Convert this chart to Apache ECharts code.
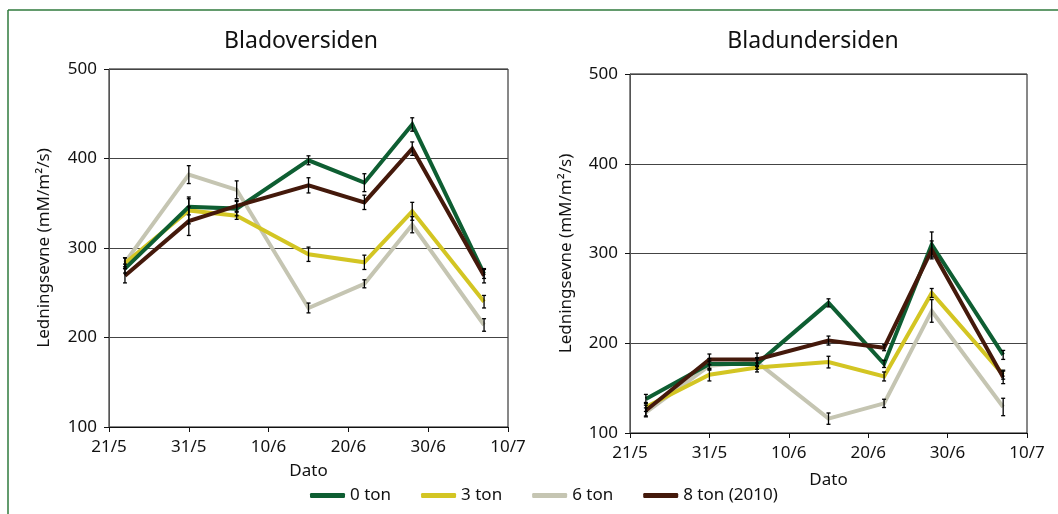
<!DOCTYPE html>
<html>
<head>
<meta charset="utf-8">
<script src="https://cdn.jsdelivr.net/npm/echarts@6/dist/echarts.min.js"></script>
<style>
html,body{margin:0;padding:0;background:#fff;}
#chart{width:1058px;height:514px;}
</style>
</head>
<body>
<div id="chart"></div>
<script>
// ---- data ----
const dates = ['23/5','31/5','6/6','15/6','22/6','28/6','7/7'];
const xTickLabels = ['21/5','31/5','10/6','20/6','30/6','10/7'];
const yTicks = [100, 200, 300, 400, 500];
const seriesNames = ['0 ton', '3 ton', '6 ton', '8 ton (2010)'];
const titles = ['Bladoversiden', 'Bladundersiden'];

// Bladoversiden (left)
const over0 = [277, 346, 344, 398, 373, 438, 271];
const over3 = [283, 342, 336, 293, 284, 341, 240];
const over6 = [284, 382, 365, 233, 260, 326, 214];
const over8 = [269, 330, 347, 370, 351, 411, 269];
const overErr0 = [5, 9, 8, 5, 10, 7.5, 5];
const overErr3 = [6, 15, 4, 8, 8, 10, 7];
const overErr6 = [5, 10, 10, 5.5, 4.5, 9, 7];
const overErr8 = [8, 16, 6, 8.5, 8, 7.5, 8];

// Bladundersiden (right)
const under0 = [138, 177, 177, 245, 177, 310, 187];
const under3 = [129, 165, 173, 179, 163, 256, 165];
const under6 = [123, 175, 179, 116, 133, 236, 129];
const under8 = [125, 182, 182, 203, 195, 304, 162];
const underErr0 = [5, 6, 6, 4.5, 4, 14, 5];
const underErr3 = [5, 7, 5, 6.5, 5, 5, 5];
const underErr6 = [5, 5, 5, 6.3, 4.6, 12.6, 9.7];
const underErr8 = [6, 6, 7, 5, 3.3, 10, 7];

const colors = ['#0e5e32', '#d3c523', '#c5c5b2', '#44190b'];

// ---- helpers ----
function dayOffset(s) {
  const p = s.split('/').map(Number);
  return (Date.UTC(2010, p[1] - 1, p[0]) - Date.UTC(2010, 4, 21)) / 86400000;
}
const xs = dates.map(dayOffset);

const FONT = 'Noto Sans';
const chart = echarts.init(document.getElementById('chart'), null, {renderer: 'canvas'});

const grids = [
  {left: 109, top: 69, width: 399, height: 358, show: true, borderColor: '#111', borderWidth: 1},
  {left: 630, top: 74, width: 397, height: 359, show: true, borderColor: '#111', borderWidth: 1}
];

function xAxisFor(i, nameGap) {
  return {
    type: 'value', gridIndex: i, min: 0, max: 50, interval: 10,
    name: 'Dato', nameLocation: 'middle', nameGap: nameGap,
    nameTextStyle: {fontFamily: FONT, fontSize: 17, color: '#111'},
    axisLine: {show: true, lineStyle: {color: '#111', width: 1}},
    axisTick: {show: true, inside: false, length: 5, lineStyle: {color: '#111'}},
    axisLabel: {margin: 12, fontFamily: FONT, fontSize: 17, color: '#111',
      formatter: v => xTickLabels[Math.round(v / 10)]},
    splitLine: {show: false}
  };
}
function yAxisFor(i, nameGap) {
  return {
    type: 'value', gridIndex: i, min: yTicks[0], max: yTicks[yTicks.length - 1], interval: 100,
    name: 'Ledningsevne (mM/m²/s)', nameLocation: 'middle', nameGap: nameGap,
    nameTextStyle: {fontFamily: FONT, fontSize: 17, color: '#111'},
    axisLine: {show: true, lineStyle: {color: '#555', width: 1}},
    axisTick: {show: true, inside: false, length: 5, lineStyle: {color: '#111'}},
    axisLabel: {margin: 12, fontFamily: FONT, fontSize: 17, color: '#111'},
    splitLine: {show: true, lineStyle: {color: '#444', width: 1}}
  };
}

const overData = [over0, over3, over6, over8];
const overErr = [overErr0, overErr3, overErr6, overErr8];
const underData = [under0, under3, under6, under8];
const underErr = [underErr0, underErr3, underErr6, underErr8];

const drawOrder = [2, 1, 0, 3];
const series = [];
[[overData, overErr], [underData, underErr]].forEach(function (pair, g) {
  drawOrder.forEach(function (k) {
    series.push({
      type: 'line', name: seriesNames[k], xAxisIndex: g, yAxisIndex: g,
      data: xs.map((x, j) => [x, pair[0][k][j]]),
      symbol: 'none', smooth: false, z: 2,
      lineStyle: {color: colors[k], width: 4, join: 'miter'},
      itemStyle: {color: colors[k]},
      emphasis: {disabled: true}, animation: false
    });
  });
  drawOrder.forEach(function (k) {
    series.push({
      type: 'custom', name: 'err', xAxisIndex: g, yAxisIndex: g, z: 5,
      data: xs.map((x, j) => [x, pair[0][k][j], pair[1][k][j]]),
      renderItem: function (params, api) {
        const x = api.value(0), y = api.value(1), e = api.value(2);
        const lo = api.coord([x, y - e]);
        const hi = api.coord([x, y + e]);
        const st = {stroke: '#000', lineWidth: 1.3};
        return {
          type: 'group',
          children: [
            {type: 'line', shape: {x1: lo[0], y1: lo[1], x2: hi[0], y2: hi[1]}, style: st},
            {type: 'line', shape: {x1: lo[0] - 2, y1: lo[1], x2: lo[0] + 2, y2: lo[1]}, style: st},
            {type: 'line', shape: {x1: hi[0] - 2, y1: hi[1], x2: hi[0] + 2, y2: hi[1]}, style: st}
          ]
        };
      },
      silent: true, animation: false
    });
  });
});

chart.setOption({
  backgroundColor: '#fff',
  animation: false,
  title: [
    {text: titles[0], left: 296, top: 25, textAlign: 'center',
      textStyle: {fontFamily: FONT, fontSize: 23, fontWeight: 'normal', color: '#111'}},
    {text: titles[1], left: 808, top: 25, textAlign: 'center',
      textStyle: {fontFamily: FONT, fontSize: 23, fontWeight: 'normal', color: '#111'}}
  ],
  legend: {
    data: seriesNames, left: 305, top: 482, itemGap: 30,
    itemWidth: 35, itemHeight: 5, icon: 'roundRect',
    textStyle: {fontFamily: FONT, fontSize: 17, color: '#111'},
    selectedMode: false
  },
  grid: grids,
  xAxis: [xAxisFor(0, 36), xAxisFor(1, 39)],
  yAxis: [yAxisFor(0, 56), yAxisFor(1, 55)],
  series: series,
  graphic: [
    {type: 'line', shape: {x1: 8, y1: 10, x2: 1058, y2: 10}, style: {stroke: '#2f7a3c', lineWidth: 1.5}, z: 10},
    {type: 'line', shape: {x1: 8, y1: 10, x2: 8, y2: 514}, style: {stroke: '#2f7a3c', lineWidth: 1.5}, z: 10}
  ]
});
</script>
</body>
</html>
